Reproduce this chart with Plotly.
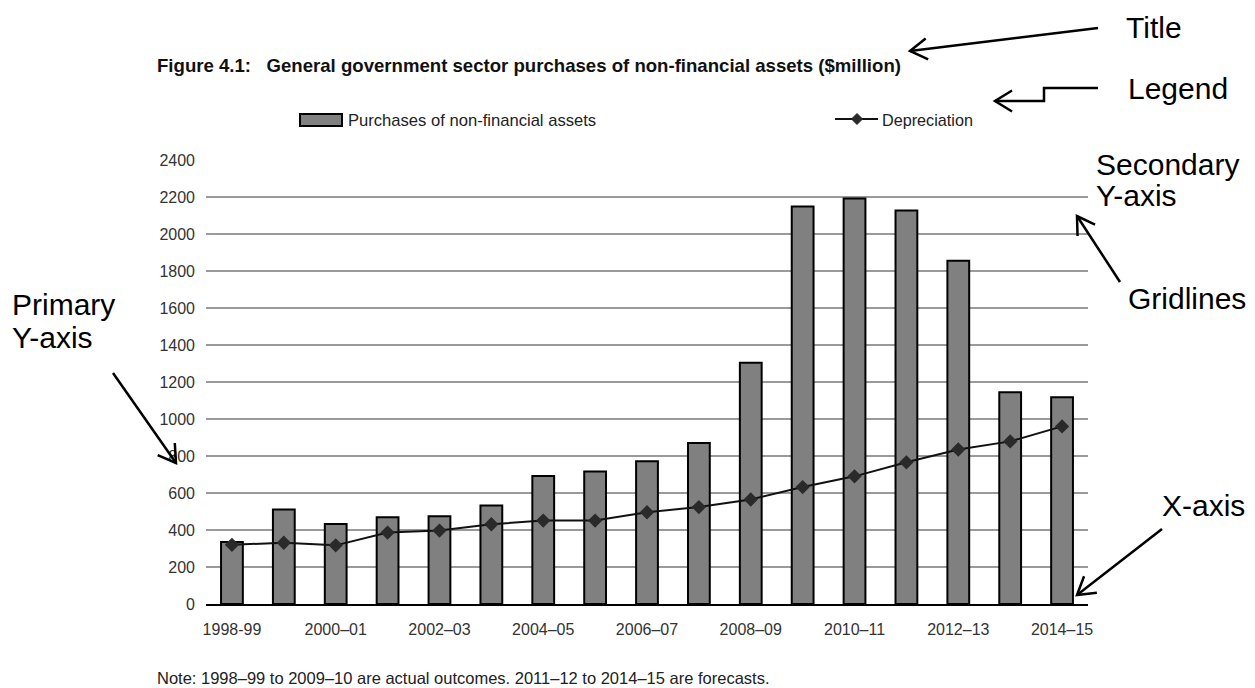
import math
import plotly.graph_objects as go

# Financial years shown on the category axis
years = [
    "1998-99", "1999–00", "2000–01", "2001–02", "2002–03", "2003–04",
    "2004–05", "2005–06", "2006–07", "2007–08", "2008–09", "2009–10",
    "2010–11", "2011–12", "2012–13", "2013–14", "2014–15",
]
# Purchases of non-financial assets ($million)
purchases = [335, 511, 433, 469, 475, 533, 692, 716, 771, 870, 1304, 2149,
             2192, 2127, 1855, 1145, 1118]
# Depreciation ($million)
depreciation = [320, 331, 317, 386, 397, 431, 451, 451, 496, 524, 565, 632,
                690, 766, 835, 879, 960]
# Every second year carries a tick label
label_years = years[::2]
y_ticks = list(range(0, 2401, 200))

W, H = 1255, 688
L, R, T, B = 206, 1088, 160, 604          # plot area in pixels

NARROW = "Liberation Sans Narrow, Arial Narrow, Liberation Sans, Arial, sans-serif"
SANS = "Liberation Sans, Arial, Helvetica, sans-serif"


def px(x):
    return (x - L) / (R - L)


def py(y):
    return (B - y) / (B - T)


fig = go.Figure()
fig.add_trace(go.Bar(
    x=years, y=purchases, name="Purchases of non-financial assets",
    marker=dict(color="#808080", line=dict(color="#000000", width=2)),
    width=0.42, showlegend=False,
))
fig.add_trace(go.Scatter(
    x=years, y=depreciation, name="Depreciation", mode="lines+markers",
    line=dict(color="#111111", width=2),
    marker=dict(symbol="diamond", size=11, color="#2a2a2a"),
    showlegend=False,
))

shapes = []
annotations = []

# Title
annotations.append(dict(
    text="<b>Figure 4.1:   General government sector purchases of non-financial assets ($million)</b>",
    x=px(155), y=py(65), xref="paper", yref="paper", xanchor="left", yanchor="middle",
    showarrow=False, font=dict(family=NARROW, size=18.6, color="#111111"),
))

# Legend: bar swatch
shapes.append(dict(type="rect", xref="paper", yref="paper",
                   x0=px(300), x1=px(342), y0=py(126), y1=py(114),
                   fillcolor="#808080", line=dict(color="#000000", width=2)))
annotations.append(dict(
    text="Purchases of non-financial assets", x=px(346), y=py(120),
    xref="paper", yref="paper", xanchor="left", yanchor="middle", showarrow=False,
    font=dict(family=NARROW, size=16.6, color="#222222"),
))
# Legend: line swatch with diamond
shapes.append(dict(type="line", xref="paper", yref="paper",
                   x0=px(835), x1=px(878), y0=py(119), y1=py(119),
                   line=dict(color="#111111", width=2)))
cx, cy, d = 857, 119, 5.5
shapes.append(dict(
    type="path", xref="paper", yref="paper",
    path=f"M {px(cx - d)},{py(cy)} L {px(cx)},{py(cy - d)} L {px(cx + d)},{py(cy)} "
         f"L {px(cx)},{py(cy + d)} Z",
    fillcolor="#2a2a2a", line=dict(color="#2a2a2a", width=1)))
annotations.append(dict(
    text="Depreciation", x=px(880), y=py(120),
    xref="paper", yref="paper", xanchor="left", yanchor="middle", showarrow=False,
    font=dict(family=NARROW, size=16.2, color="#222222"),
))

# Footnote
annotations.append(dict(
    text="Note: 1998–99 to 2009–10 are actual outcomes. 2011–12 to 2014–15 are forecasts.",
    x=px(155), y=py(678), xref="paper", yref="paper", xanchor="left", yanchor="middle",
    showarrow=False, font=dict(family=NARROW, size=16.5, color="#222222"),
))

# Callout labels
callouts = [
    ("Title", 1124, 28),
    ("Legend", 1126, 88),
    ("Secondary", 1094, 164),
    ("Y-axis", 1094, 196),
    ("Gridlines", 1126, 298),
    ("Primary", 10, 304),
    ("Y-axis", 10, 337),
    ("X-axis", 1160, 505),
]
for text, x, y in callouts:
    annotations.append(dict(
        text=text, x=px(x), y=py(y), xref="paper", yref="paper",
        xanchor="left", yanchor="middle", showarrow=False,
        font=dict(family=SANS, size=30, color="#000000"),
    ))


def arrow(points, head=20, spread=0.55):
    """Polyline through pixel points with an open V head at the last point."""
    path = "M " + " L ".join(f"{px(x)},{py(y)}" for x, y in points)
    shapes.append(dict(type="path", xref="paper", yref="paper", path=path,
                       line=dict(color="#000000", width=2.5)))
    (x1, y1), (x2, y2) = points[-2], points[-1]
    ang = math.atan2(y1 - y2, x1 - x2)
    a1 = (x2 + head * math.cos(ang + spread), y2 + head * math.sin(ang + spread))
    a2 = (x2 + head * math.cos(ang - spread), y2 + head * math.sin(ang - spread))
    vpath = f"M {px(a1[0])},{py(a1[1])} L {px(x2)},{py(y2)} L {px(a2[0])},{py(a2[1])}"
    shapes.append(dict(type="path", xref="paper", yref="paper", path=vpath,
                       line=dict(color="#000000", width=2.5)))


arrow([(1098, 28), (910, 51)])
arrow([(1098, 88), (1044, 88), (1044, 101), (995, 101)])
arrow([(1120, 282), (1077, 216)])
arrow([(113, 373), (176, 463)])
arrow([(1162, 529), (1077, 595)])

fig.update_layout(
    width=W, height=H,
    margin=dict(l=L, r=W - R, t=T, b=H - B, pad=0),
    paper_bgcolor="#ffffff", plot_bgcolor="#ffffff",
    shapes=shapes, annotations=annotations,
    showlegend=False,
)
fig.update_xaxes(
    type="category", range=[-0.5, len(years) - 0.5],
    tickmode="array", tickvals=label_years, ticktext=label_years,
    showline=True, linecolor="#000000", linewidth=2,
    showgrid=False, ticks="", ticklabelstandoff=10,
    tickfont=dict(family=SANS, size=16, color="#333333"),
)
fig.update_yaxes(
    range=[0, 2400], tickmode="array", tickvals=y_ticks,
    showgrid=True, gridcolor="#9a9a9a", gridwidth=1.5,
    zeroline=False, showline=False, ticks="", ticklabelstandoff=10,
    tickfont=dict(family=SANS, size=16, color="#333333"),
)

fig.write_html("out.html")
